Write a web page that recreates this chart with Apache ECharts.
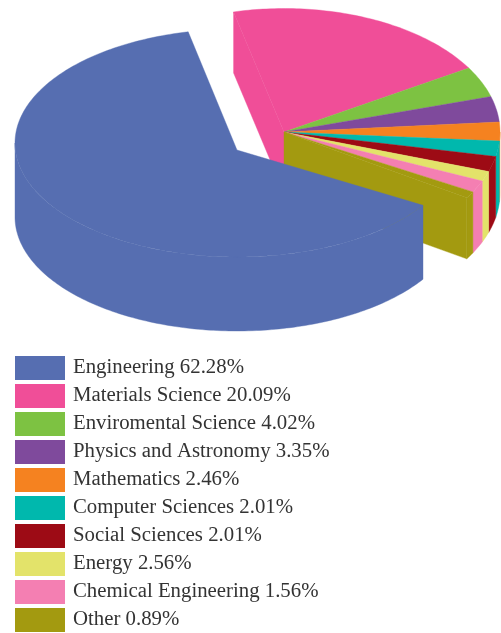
<!DOCTYPE html>
<html>
<head>
<meta charset="utf-8">
<style>html,body{margin:0;padding:0;background:#fff;overflow:hidden}#c{width:501px;height:633px}</style>
<script src="https://cdn.jsdelivr.net/npm/echarts@6/dist/echarts.min.js"></script>
</head>
<body>
<div id="c"></div>
<script>
var categories = ['Engineering','Materials Science','Enviromental Science','Physics and Astronomy','Mathematics','Computer Sciences','Social Sciences','Energy','Chemical Engineering','Other'];
// Percentages as printed in the legend.
var percents = [62.28,20.09,4.02,3.35,2.46,2.01,2.01,2.56,1.56,0.89];
// Wedge sizes: same as the legend, except that the
// Energy wedge is drawn at about 1.31%, narrower than its printed 2.56%.
var wedgeShares = [62.28,20.09,4.02,3.35,2.46,2.01,2.01,1.31,1.56,0.89];
var colors = ['#566EB1','#F04E98','#7DC242','#7F4A9C','#F58220','#00B8AD','#9D0B15','#E3E36A','#F47FB2','#A39A10'];

// Layout of the two exploded pieces of the pie (pixels).
var bodyPiece = {cx:237,cy:143,apexY:150,rx:222,ry:114,depth:74,start:102.7,dir:1};
var restPiece = {cx:284,cy:132,apexY:132,rx:216,ry:123.5,depth:61,start:103.5,dir:-1};

function pt(p,deg,dy){
  var r=deg*Math.PI/180;
  return [p.cx+p.rx*Math.cos(r), p.cy-p.ry*Math.sin(r)+(dy||0)];
}
function arc(p,a,b,dy){
  var out=[],n=Math.max(2,Math.ceil(Math.abs(b-a)));
  for(var i=0;i<=n;i++) out.push(pt(p,a+(b-a)*i/n,dy));
  return out;
}
function makeRender(idx){
  return function(params,api){
    var share=api.value(0), before=api.value(1);
    var p=idx===0?bodyPiece:restPiece;
    var a0=p.start+p.dir*before*3.6, a1=a0+p.dir*share*3.6;
    var style={fill:colors[idx],stroke:colors[idx],lineWidth:0.4};
    var apex=[p.cx,p.apexY];
    var kids=[];
    // cut faces exposed by the gap the Engineering piece leaves
    if(idx===1||idx===9){
      var edge=idx===1?a0:a1, e0=pt(p,edge), e1=pt(p,edge,p.depth);
      kids.push({type:'polygon',shape:{points:[apex,e0,e1,[apex[0],apex[1]+p.depth]]},style:style});
    }
    // outer wall: only the part of the rim facing the viewer
    if(p===bodyPiece){
      kids.push({type:'polygon',shape:{points:arc(p,180,a1,0).concat(arc(p,a1,180,p.depth))},style:style});
    } else {
      var wA=Math.min(a0,0), wB=a1;
      if(wA>wB) kids.push({type:'polygon',shape:{points:arc(p,wA,wB,0).concat(arc(p,wB,wA,p.depth))},style:style});
    }
    kids.push({type:'polygon',shape:{points:[apex].concat(arc(p,a0,a1,0))},style:style});
    return {type:'group',children:kids};
  };
}

var series=[], beforeShare=0;
categories.forEach(function(name,i){
  var before=i===0?0:beforeShare;
  series.push({
    type:'custom',name:name,coordinateSystem:'none',silent:true,
    z:i===0?30:2+i,
    itemStyle:{color:colors[i]},
    renderItem:makeRender(i),
    data:[[wedgeShares[i],before]]
  });
  if(i>0) beforeShare+=wedgeShares[i];
});

var chart=echarts.init(document.getElementById('c'),null,{renderer:'canvas',width:501,height:633});
chart.setOption({
  animation:false,
  backgroundColor:'#fff',
  legend:{
    show:true,orient:'vertical',left:15,top:356,
    itemWidth:50,itemHeight:24,itemGap:4,padding:0,
    icon:'rect',selectedMode:false,
    data:categories,
    formatter:function(n){return n+' '+percents[categories.indexOf(n)].toFixed(2)+'%';},
    textStyle:{fontFamily:'Liberation Serif',fontSize:20.8,color:'#333',padding:[0,0,0,3]}
  },
  series:series
});
</script>
</body>
</html>
